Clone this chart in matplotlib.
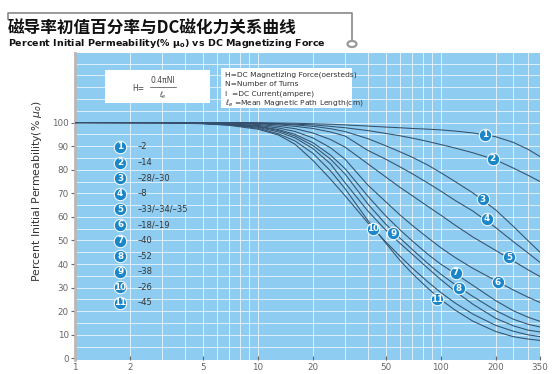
import numpy as np
import matplotlib
matplotlib.use("Agg")
from matplotlib import pyplot as plt
from matplotlib.lines import Line2D
from matplotlib.patches import Circle, Rectangle

# DC magnetizing force (oersteds)
force = [1, 3, 5, 7, 10, 13, 16, 20, 25, 30, 40, 50, 60, 70, 85, 100, 120, 150, 200, 250, 300, 350]

# percent initial permeability for each material curve
c1 = [100, 100, 100, 100, 99.9, 99.8, 99.7, 99.5, 99.3, 99, 98.5, 98.1, 97.8, 97.5, 97.2, 96.9, 96.4, 95.6, 94, 91.6, 88.7, 85.6]
c2 = [100, 100, 100, 100, 99.8, 99.6, 99.3, 99, 98.4, 97.8, 96.6, 95.4, 94.4, 93.4, 92, 90.7, 89.2, 87.2, 84.2, 80.7, 77.7, 75]
c3 = [100, 100, 100, 99.9, 99.7, 99.4, 99, 98.4, 97.4, 96.2, 93.2, 90.2, 87.6, 85.3, 82, 78.8, 75, 70.2, 63, 56, 50, 45]
c4 = [100, 100, 99.9, 99.8, 99.5, 99, 98.4, 97.5, 96, 94.3, 88.2, 84.5, 81.2, 78.3, 74.4, 71, 67, 62.5, 55.5, 49.5, 44.8, 40.7]
c5 = [100, 100, 99.8, 99.6, 99.2, 98.4, 97.4, 95.6, 92.8, 89.6, 82.5, 77, 72.5, 69, 64.5, 60.8, 56.5, 51.5, 45.8, 41.3, 37.6, 34.7]
c6 = [100, 100, 99.7, 99.4, 98.8, 97.7, 96.2, 93.5, 89.3, 84.5, 73.5, 66.5, 60.8, 56.4, 51.2, 47, 42.8, 38.2, 33, 29, 26, 23.7]
c7 = [100, 99.9, 99.7, 99.3, 98.5, 97, 95, 91.5, 86.2, 80.5, 68.8, 60.5, 54.5, 49.8, 44.2, 40, 36, 31, 24.5, 20.2, 17.5, 15.7]
c8 = [100, 99.9, 99.6, 99.2, 98.3, 96.6, 94.3, 90.3, 84.5, 78.2, 65.5, 57, 51, 46.2, 40.3, 35.8, 31.3, 26.3, 20.3, 16.6, 14.5, 13.3]
c9 = [100, 99.9, 99.6, 99.1, 98, 96, 93.5, 89, 82.5, 74.5, 62.5, 54.5, 48.8, 44.2, 38.3, 33.5, 28.5, 23, 17, 13.8, 12, 11.2]
c10 = [100, 99.9, 99.5, 98.8, 97.2, 94.7, 90.8, 84, 76, 69, 57.5, 49.5, 43.3, 38.3, 32.5, 28, 23.5, 18.8, 14, 11.5, 10, 9.2]
c11 = [100, 99.9, 99.6, 99, 97.6, 95.2, 92.2, 87, 79.5, 72, 58.5, 49, 41.5, 36, 29.8, 25, 20.5, 15.8, 11.4, 9.2, 8.2, 7.6]
curves = [c1, c2, c3, c4, c5, c6, c7, c8, c9, c10, c11]

# where the numbered badge sits on each curve
badge_h = [175, 193, 170, 179, 237, 206, 121, 126, 55, 42.5, 96]
badge_pct = [94.9, 84.7, 67.4, 59.3, 42.8, 32.2, 36.4, 29.7, 53, 55, 25]

# material grades in the side key
grades = ["\u20132", "\u201314", "\u201328/\u201330", "\u20138", "\u201333/\u201334/\u201335",
          "\u201318/\u201319", "\u201340", "\u201352", "\u201338", "\u201326", "\u201345"]

xticks = [1, 2, 5, 10, 20, 50, 100, 200, 350]
yticks = list(range(0, 101, 10))

bg = "#8ecdf1"
badge = "#1b87c9"
linec = "#34506c"
W, H = 554, 374

fig = plt.figure(figsize=(W / 100, H / 100), dpi=100)
fig.patch.set_facecolor("white")
ax = fig.add_axes([75 / W, 14 / H, 465 / W, 307 / H])
ax.set_facecolor(bg)
ax.set_xscale("log")
ax.set_xlim(1, 350)
ax.set_ylim(-0.7, 129.5)

# grid
for v in [2, 3, 4, 5, 6, 7, 8, 9, 10, 20, 30, 40, 50, 60, 70, 80, 90, 100, 200, 250, 300]:
    ax.axvline(v, color="white", lw=0.7, alpha=0.7, zorder=1)
for v in np.arange(5, 130, 5):
    ax.axhline(v, color="white", lw=0.7, alpha=0.7, zorder=1)

for c in curves:
    ax.plot(force, c, color=linec, lw=0.75, zorder=3)

for i, (h, p) in enumerate(zip(badge_h, badge_pct)):
    ax.scatter([h], [p], s=80, color=badge, edgecolor="white", lw=0.7, zorder=5)
    ax.text(h, p, str(i + 1), color="white", fontsize=6.3, fontweight="bold",
            ha="center", va="center", zorder=6)

# side key
key_y = np.linspace(0.694, 0.186, len(grades))
for i, (g, yy) in enumerate(zip(grades, key_y)):
    ax.scatter([0.097], [yy], s=80, color=badge, edgecolor="white", lw=0.7,
               transform=ax.transAxes, zorder=5, clip_on=False)
    ax.text(0.097, yy, str(i + 1), color="white", fontsize=6.3, fontweight="bold",
            ha="center", va="center", transform=ax.transAxes, zorder=6)
    ax.text(0.135, yy, g, color="#333333", fontsize=6, ha="left", va="center",
            transform=ax.transAxes, zorder=6)

# formula boxes
ax.add_patch(Rectangle((0.0645, 0.837), 0.2255, 0.108, transform=ax.transAxes,
                       facecolor="white", edgecolor="none", zorder=4))
ax.text(0.15, 0.885, "H=", fontsize=5.5, color="#444444", ha="right", va="center",
        transform=ax.transAxes, zorder=5)
ax.text(0.19, 0.91, "0.4\u03c0NI", fontsize=5.5, color="#444444", ha="center", va="center",
        transform=ax.transAxes, zorder=5)
ax.plot([0.162, 0.218], [0.89, 0.89], color="#444444", lw=0.5, transform=ax.transAxes, zorder=5)
ax.text(0.19, 0.862, r"$\ell_e$", fontsize=5, color="#444444", ha="center", va="center",
        transform=ax.transAxes, zorder=5)

ax.add_patch(Rectangle((0.314, 0.821), 0.282, 0.13, transform=ax.transAxes,
                       facecolor="white", edgecolor="none", zorder=4))
defs = ["H=DC Magnetizing Force(oersteds)", "N=Number of Turns",
        "I  =DC Current(ampere)", r"$\ell_e$ =Mean Magnetic Path Length(cm)"]
for k, s in enumerate(defs):
    ax.text(0.323, 0.928 - k * 0.03, s, fontsize=5.4, color="#333333", ha="left",
            va="center", transform=ax.transAxes, zorder=5)

ax.set_xticks(xticks)
ax.set_xticklabels([str(t) for t in xticks])
ax.xaxis.set_minor_locator(matplotlib.ticker.NullLocator())
ax.set_yticks(yticks)
ax.tick_params(axis="both", labelsize=6.3, colors="#666666", length=3, width=0.8, pad=1.5)
ax.tick_params(axis="x", direction="in", pad=2)
for s in ["top", "right", "bottom"]:
    ax.spines[s].set_visible(False)
ax.spines["left"].set_color("#b8b8b8")
ax.spines["left"].set_linewidth(2)

ax.set_ylabel(r"Percent Initial Permeability(% $\mu_o$)", fontsize=7.8, color="#333333")
ax.yaxis.set_label_coords(-0.066, 0.55)

# title block
fig.text(8 / W, 1 - 29 / H, "磁导率初值百分率与DC磁化力关系曲线", fontsize=12,
         fontweight="bold", family=["Noto Sans CJK SC", "DejaVu Sans"], va="center", ha="left",
         color="#111111")
fig.text(8 / W, 1 - 44 / H, r"Percent Initial Permeability(% $\mathbf{\mu_o}$) vs DC Magnetizing Force",
         fontsize=6.8, fontweight="bold", va="center", ha="left", color="#111111")
fig.add_artist(Line2D([8 / W, 8 / W, 352 / W, 352 / W],
                      [1 - 19 / H, 1 - 13 / H, 1 - 13 / H, 1 - 39 / H],
                      color="#888888", lw=1.2))
fig.add_artist(Circle((352 / W, 1 - 44 / H), 4.5 / W, facecolor="white",
                      edgecolor="#999999", lw=1.6, transform=fig.transFigure))

fig.savefig("out.png", dpi=100)
